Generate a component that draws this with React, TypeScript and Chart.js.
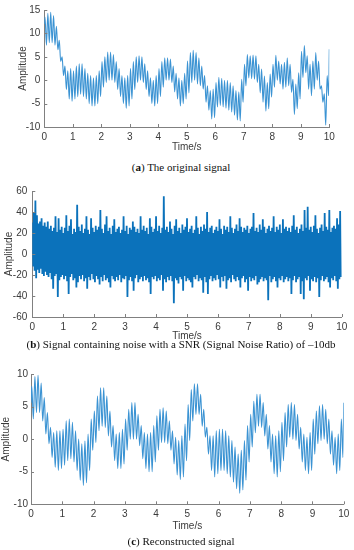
import React, { useEffect, useRef } from "react";
import { Chart, registerables } from "chart.js";
Chart.register(...registerables);

// ---------- data ----------
const X_MIN = 0;
const X_MAX = 10;
const CYCLE = 0.1; // one fast oscillation per 0.1 s

// (a) original signal: start/end values, per-cycle peak and trough
const A_START = 12;
const A_END = 6.6;
const A_HIGH = [
  13.5, 14.3, 14.5, 13.8, 11.5, 8.5, 5.0, 3.0, 2.0, 2.5,
  2.0, 3.0, 3.5, 3.5, 2.5, 1.5, 1.0, 0.5, 1.0, 2.0,
  4.0, 5.0, 6.0, 6.0, 5.5, 4.0, 2.5, 1.0, 0.5, 1.0,
  2.5, 4.0, 5.0, 5.2, 5.0, 3.5, 2.0, 0.5, 0.0, 1.0,
  2.5, 4.0, 4.8, 4.8, 4.5, 3.0, 1.5, 0.5, 0.0, 1.5,
  4.1, 5.9, 6.4, 5.9, 4.8, 3.0, 1.0, -1.2, -2.2, -1.9,
  -0.5, 0.6, 0.4, 0.0, 0.0, -0.5, -1.2, -2.2, -2.5, 0.2,
  3.4, 5.5, 5.2, 5.4, 5.2, 3.4, 2.4, 0.9, -0.5, 1.3,
  3.4, 5.3, 4.1, 3.4, 3.8, 4.8, 3.4, 0.2, -0.8, 1.6,
  6.2, 7.4, 5.2, 3.4, 4.1, 5.9, 4.1, -1.2, -2.9, 1.0,
];
const A_LOW = [
  7.5, 8.0, 8.0, 7.5, 6.5, 4.0, 1.0, -2.0, -4.0, -4.5,
  -4.0, -3.5, -3.0, -3.5, -4.0, -5.0, -5.5, -5.5, -5.0, -3.5,
  -1.5, -0.5, 0.0, 0.0, -0.5, -2.0, -3.5, -5.0, -6.0, -5.5,
  -4.0, -2.0, -0.5, 0.0, -0.5, -2.0, -3.5, -5.0, -5.5, -5.0,
  -3.5, -1.5, 0.0, 0.0, -0.5, -2.5, -4.0, -5.5, -5.0, -4.0,
  -2.7, -0.5, 0.0, -0.8, -1.2, -1.9, -4.7, -6.4, -8.3, -8.0,
  -5.7, -5.4, -5.7, -6.0, -6.4, -6.8, -7.5, -8.5, -8.7, -4.7,
  -1.2, 0.5, 0.3, 0.2, -0.5, -2.7, -4.7, -6.6, -6.1, -3.6,
  -1.5, 0.0, -0.8, -1.9, -1.5, -1.2, -2.6, -7.3, -6.1, -4.0,
  0.6, 1.6, -1.9, -3.3, -1.9, 0.0, -1.9, -4.7, -9.6, -3.3,
];

// (b) noisy signal: extreme values every 0.05 s (upper / lower swing)
const NOISE_STEP = 0.05;
const B_HIGH = [
  30, 39, 51, 37, 29, 31, 34, 27, 30, 26, 31, 24, 27, 22, 25, 36, 21, 34, 23, 26,
  20, 25, 37, 22, 27, 33, 19, 24, 21, 47, 26, 22, 28, 20, 24, 36, 23, 19, 34, 25,
  21, 27, 23, 26, 42, 24, 20, 28, 36, 22, 25, 19, 27, 33, 21, 24, 26, 20, 23, 36,
  22, 27, 19, 25, 23, 31, 26, 21, 24, 20, 36, 23, 27, 22, 25, 19, 34, 26, 21, 24,
  36, 22, 27, 20, 25, 55, 23, 26, 21, 31, 24, 19, 27, 33, 22, 25, 20, 28, 23, 26,
  34, 21, 24, 27, 20, 23, 36, 25, 19, 26, 22, 28, 24, 40, 21, 25, 27, 20, 23, 26,
  22, 33, 24, 19, 27, 23, 26, 21, 36, 25, 20, 24, 28, 22, 34, 26, 21, 25, 23, 27,
  20, 24, 26, 39, 22, 25, 21, 28, 23, 33, 26, 20, 24, 27, 22, 25, 36, 21, 26, 23,
  28, 20, 33, 24, 26, 22, 25, 21, 27, 37, 23, 26, 20, 24, 28, 22, 42, 25, 45, 23,
  26, 21, 27, 37, 24, 20, 25, 28, 22, 39, 26, 23, 42, 21, 25, 27, 24, 34, 28, 41,
];
const B_LOW = [
  -12, -16, -23, -15, -18, -14, -19, -21, -17, -20, -22, -18, -24, -33, -21, -19, -41, -25, -22, -20,
  -24, -21, -26, -38, -22, -19, -25, -23, -32, -27, -21, -24, -20, -26, -23, -33, -22, -25, -19, -24,
  -27, -21, -24, -29, -22, -26, -20, -25, -23, -27, -32, -21, -24, -26, -22, -25, -20, -27, -23, -24,
  -21, -41, -25, -22, -26, -35, -23, -20, -27, -24, -22, -26, -21, -25, -23, -27, -38, -22, -24, -21,
  -26, -23, -25, -20, -35, -24, -27, -22, -25, -21, -26, -47, -23, -25, -28, -22, -24, -35, -21, -26,
  -23, -25, -27, -32, -22, -24, -20, -26, -23, -25, -37, -22, -27, -38, -24, -21, -26, -23, -25, -20,
  -24, -32, -22, -26, -21, -33, -25, -23, -27, -20, -24, -26, -22, -25, -32, -23, -21, -27, -24, -35,
  -22, -26, -23, -25, -21, -29, -27, -24, -22, -26, -23, -25, -44, -21, -27, -24, -22, -26, -32, -23,
  -25, -21, -27, -24, -22, -26, -23, -38, -25, -21, -27, -24, -22, -38, -26, -43, -23, -25, -21, -35,
  -24, -26, -22, -27, -23, -41, -25, -21, -26, -24, -22, -27, -32, -23, -25, -21, -26, -33, -24, -22,
];

// (c) reconstructed signal
const C_START = 5.6;
const C_END = 5.6;
const C_HIGH = [
  8.1, 9.6, 9.8, 8.6, 6.4, 4.1, 1.8, 1.0, 1.3, 1.3,
  1.5, 2.8, 3.1, 2.6, 1.3, 0.0, -0.7, -0.3, 0.8, 3.1,
  4.3, 6.6, 7.9, 7.9, 6.6, 4.3, 2.1, 0.8, 1.0, 1.5,
  3.1, 4.6, 5.6, 5.6, 3.8, 2.1, 1.0, 0.8, 1.0, 2.1,
  3.6, 4.6, 4.8, 4.3, 2.8, 1.3, 0.3, -0.2, 0.5, 2.3,
  5.3, 7.6, 8.5, 8.5, 6.9, 4.6, 1.8, 0.5, 0.5, 1.3,
  1.5, 1.5, 1.3, 0.5, -0.2, -1.2, -2.3, -1.7, -0.2, 2.1,
  3.8, 5.8, 6.9, 6.9, 5.6, 3.8, 2.1, 0.8, 0.5, 1.3,
  2.6, 4.1, 5.3, 5.6, 5.3, 3.8, 1.8, 0.8, 0.3, 1.0,
  3.1, 4.3, 5.1, 5.3, 4.6, 3.1, 1.3, 0.3, 0.8, 3.1,
];
const C_LOW = [
  3.1, 4.1, 4.1, 2.8, 0.8, -0.7, -2.8, -4.3, -4.8, -4.5,
  -4.0, -3.3, -3.0, -3.5, -4.8, -6.3, -7.1, -6.7, -4.8, -1.7,
  -0.5, 1.3, 2.0, 1.8, 0.5, -1.2, -3.3, -4.5, -4.5, -3.8,
  -1.7, 0.0, 0.0, 0.0, -1.0, -3.0, -4.5, -5.0, -5.0, -3.5,
  -1.7, -0.5, -0.5, -0.7, -1.7, -3.8, -5.5, -6.2, -5.8, -3.3,
  -0.2, 2.8, 3.8, 3.8, 2.0, 0.3, -2.3, -4.8, -5.8, -5.3,
  -4.8, -4.8, -5.3, -5.8, -6.6, -7.6, -8.3, -7.8, -6.3, -3.5,
  -1.2, 1.0, 2.0, 1.8, 0.5, -1.5, -3.5, -5.3, -5.8, -5.0,
  -3.3, -1.2, 0.3, 0.0, -0.2, -1.5, -3.5, -4.8, -5.3, -4.8,
  -2.3, -0.7, -0.2, 0.0, -0.7, -2.3, -4.0, -5.3, -4.8, -2.8,
];

const Y_RANGE_A = [-10, 15, 5];
const Y_RANGE_B = [-60, 60, 20];
const Y_RANGE_C = [-10, 10, 5];

const CAPTIONS = [
  { tag: "a", text: " The original signal" },
  { tag: "b", text: " Signal containing noise with a SNR (Signal Noise Ratio) of \u201310db" },
  { tag: "c", text: " Reconstructed signal" },
];

// ---------- helpers ----------
function cyclePoints(start: number, high: number[], low: number[], end: number) {
  const pts: { x: number; y: number }[] = [{ x: X_MIN, y: start }];
  high.forEach((h, k) => {
    pts.push({ x: k * CYCLE + CYCLE * 0.25, y: h });
    pts.push({ x: k * CYCLE + CYCLE * 0.75, y: low[k] });
  });
  pts.push({ x: X_MAX, y: end });
  return pts;
}

function noisePoints(high: number[], low: number[]) {
  const pts: { x: number; y: number }[] = [];
  high.forEach((h, i) => {
    pts.push({ x: i * NOISE_STEP, y: h });
    pts.push({ x: i * NOISE_STEP + NOISE_STEP / 2, y: low[i] });
  });
  return pts;
}

const AXIS_COLOR = "#808080";
const TEXT_COLOR = "#3a3a3a";
const FONT = "'Liberation Sans', Arial, Helvetica, sans-serif";

const inwardTicks = {
  id: "inwardTicks",
  afterDraw(chart: any) {
    const { ctx, chartArea, scales } = chart;
    ctx.save();
    ctx.strokeStyle = AXIS_COLOR;
    ctx.lineWidth = 1;
    ctx.beginPath();
    scales.x.ticks.forEach((t: any) => {
      const px = Math.round(scales.x.getPixelForValue(t.value)) + 0.5;
      ctx.moveTo(px, chartArea.bottom);
      ctx.lineTo(px, chartArea.bottom - 3);
    });
    scales.y.ticks.forEach((t: any) => {
      const py = Math.round(scales.y.getPixelForValue(t.value)) + 0.5;
      ctx.moveTo(chartArea.left, py);
      ctx.lineTo(chartArea.left + 3, py);
    });
    ctx.stroke();
    ctx.restore();
  },
};

type PanelProps = {
  top: number;
  height: number;
  plotLeft: number;
  plotRight: number;
  plotTop: number;
  plotBottom: number;
  yRange: number[];
  points: { x: number; y: number }[];
  lineWidth: number;
  lineColor: string;
  smooth: boolean;
  yLabelPad: number;
  yTitleX: number;
  xTitleY: number;
};

function Panel(p: PanelProps) {
  const ref = useRef<HTMLCanvasElement | null>(null);
  useEffect(() => {
    if (!ref.current) return;
    const chart = new Chart(ref.current, {
      type: "line",
      data: {
        datasets: [
          {
            data: p.points,
            borderColor: p.lineColor,
            borderWidth: p.lineWidth,
            pointRadius: 0,
            fill: false,
            tension: p.smooth ? 0 : 0.001,
            cubicInterpolationMode: p.smooth ? "monotone" : "default",
          } as any,
        ],
      },
      options: {
        animation: false,
        responsive: false,
        devicePixelRatio: 1,
        events: [],
        parsing: false,
        normalized: true,
        layout: {
          padding: { left: 0, right: 354 - p.plotRight, top: p.plotTop, bottom: 0 },
        },
        plugins: { legend: { display: false }, tooltip: { enabled: false } },
        scales: {
          x: {
            type: "linear",
            min: X_MIN,
            max: X_MAX,
            afterFit: (s: any) => {
              s.height = p.height - p.plotBottom;
            },
            ticks: {
              stepSize: 1,
              padding: 4,
              color: TEXT_COLOR,
              font: { family: FONT, size: 10 },
              maxRotation: 0,
            },
            grid: { display: false, drawTicks: false },
            border: { display: true, color: AXIS_COLOR, width: 1 },
            title: {
              display: true,
              text: "Time/s",
              color: TEXT_COLOR,
              font: { family: FONT, size: 10 },
              padding: { top: 0, bottom: p.height - p.xTitleY - 6 },
            },
          },
          y: {
            type: "linear",
            min: p.yRange[0],
            max: p.yRange[1],
            afterFit: (s: any) => {
              s.width = p.plotLeft;
            },
            ticks: {
              stepSize: p.yRange[2],
              padding: p.yLabelPad,
              color: TEXT_COLOR,
              font: { family: FONT, size: 10 },
            },
            grid: { display: false, drawTicks: false },
            border: { display: true, color: AXIS_COLOR, width: 1 },
            title: {
              display: true,
              text: "Amplitude",
              color: TEXT_COLOR,
              font: { family: FONT, size: 10 },
              padding: { top: p.yTitleX - 6, bottom: 0 },
            },
          },
        },
      },
      plugins: [inwardTicks],
    } as any);
    return () => chart.destroy();
  }, []);
  return (
    <canvas
      ref={ref}
      width={354}
      height={p.height}
      style={{ position: "absolute", left: 0, top: p.top, width: 354, height: p.height }}
    />
  );
}

function Caption({ idx, centerY }: { idx: number; centerY: number }) {
  const c = CAPTIONS[idx];
  return (
    <div
      style={{
        position: "absolute",
        left: 4,
        width: 354,
        top: centerY - 7,
        height: 14,
        lineHeight: "14px",
        textAlign: "center",
        fontFamily: "'Liberation Serif', 'Times New Roman', serif",
        fontSize: 11,
        color: "#111",
        whiteSpace: "nowrap",
      }}
    >
      (<b>{c.tag}</b>){c.text}
    </div>
  );
}

export default function App() {
  const ptsA = cyclePoints(A_START, A_HIGH, A_LOW, A_END);
  const ptsB = noisePoints(B_HIGH, B_LOW);
  const ptsC = cyclePoints(C_START, C_HIGH, C_LOW, C_END);
  return (
    <div style={{ position: "absolute", left: 0, top: 0, width: 354, height: 550, background: "#fff", overflow: "hidden" }}>
      <Panel
        top={0}
        height={155}
        plotLeft={44.3}
        plotRight={329.3}
        plotTop={8.3}
        plotBottom={127}
        yRange={Y_RANGE_A}
        points={ptsA}
        lineWidth={1.1}
        lineColor="#3b93d3"
        smooth={true}
        yLabelPad={4}
        yTitleX={23}
        xTitleY={147.7}
      />
      <Caption idx={0} centerY={166.7} />
      <Panel
        top={180}
        height={163}
        plotLeft={32.3}
        plotRight={341.7}
        plotTop={7.3}
        plotBottom={137}
        yRange={Y_RANGE_B}
        points={ptsB}
        lineWidth={1.8}
        lineColor="#0b72bb"
        smooth={false}
        yLabelPad={5}
        yTitleX={9}
        xTitleY={156.7}
      />
      <Caption idx={1} centerY={344} />
      <Panel
        top={365}
        height={168}
        plotLeft={31}
        plotRight={343.7}
        plotTop={7.7}
        plotBottom={139.3}
        yRange={Y_RANGE_C}
        points={ptsC}
        lineWidth={1.1}
        lineColor="#3b93d3"
        smooth={true}
        yLabelPad={3}
        yTitleX={6.7}
        xTitleY={161}
      />
      <Caption idx={2} centerY={541} />
    </div>
  );
}
